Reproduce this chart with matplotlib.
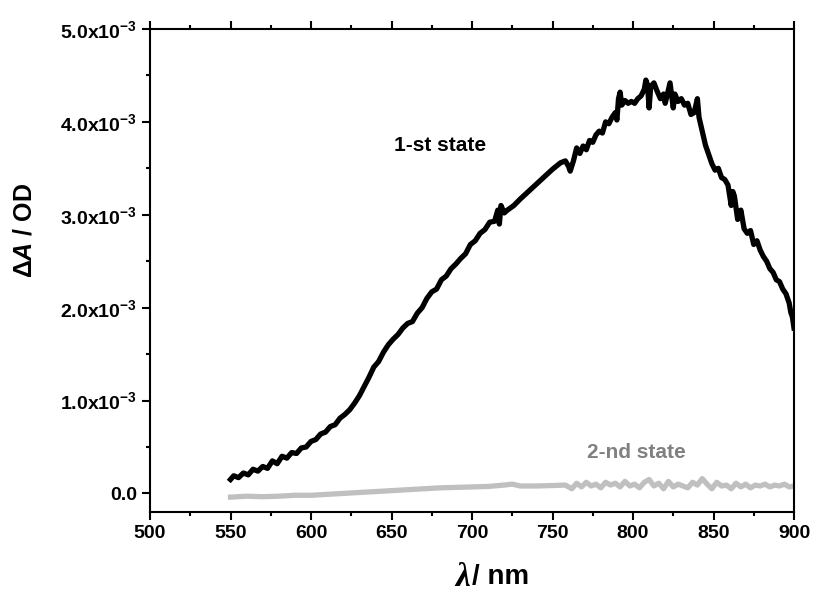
import matplotlib
matplotlib.use("Agg")
import matplotlib.pyplot as plt
from matplotlib.ticker import MultipleLocator, FixedLocator, FuncFormatter

plt.rcParams['font.family'] = ['Liberation Sans', 'DejaVu Sans']
plt.rcParams['font.weight'] = 'bold'
plt.rcParams['mathtext.fontset'] = 'custom'
plt.rcParams['mathtext.rm'] = 'Liberation Sans:bold'
plt.rcParams['mathtext.bf'] = 'Liberation Sans:bold'
plt.rcParams['mathtext.it'] = 'Liberation Sans:italic:bold'

# 1-st state spectrum (wavelength nm, dA in units of 1e-3 OD)
wl1 = [550, 552, 555, 558, 561, 564, 567, 570, 573, 576, 579, 582, 585, 588, 591, 594, 597,
       600, 603, 606, 609, 612, 615, 618, 621, 624, 627, 630, 633, 636, 639, 642, 645, 648,
       651, 654, 657, 660, 663, 666, 669, 672, 675, 678, 681, 684, 687, 690, 693, 696, 699,
       702, 705, 708, 711, 714, 716, 717, 718, 720, 722, 726, 730, 735, 740, 745, 750, 755,
       758, 760, 761, 763, 765, 767, 769, 771, 773, 775, 777, 779, 781, 783, 785, 787, 789,
       790, 791, 792, 793, 795, 797, 799, 801, 803, 805, 807, 808, 809, 810, 811, 813, 815,
       817, 819, 820, 822, 823, 825, 826, 828, 830, 832, 834, 836, 838, 840, 841, 843, 845,
       847, 849, 851, 853, 855, 857, 859, 861, 862, 863, 865, 867, 869, 871, 873, 875, 877,
       879, 881, 883, 885, 887, 889, 891, 893, 895, 897, 898, 899, 900]
da1 = [0.15, 0.19, 0.17, 0.22, 0.20, 0.26, 0.24, 0.29, 0.27, 0.35, 0.32, 0.40, 0.38, 0.44, 0.43,
       0.49, 0.50, 0.56, 0.58, 0.64, 0.66, 0.72, 0.74, 0.81, 0.85, 0.90, 0.97, 1.05, 1.15, 1.25,
       1.36, 1.42, 1.52, 1.60, 1.66, 1.71, 1.78, 1.83, 1.85, 1.94, 2.00, 2.10, 2.17, 2.20, 2.30,
       2.34, 2.42, 2.47, 2.53, 2.58, 2.68, 2.72, 2.80, 2.84, 2.92, 2.93, 3.05, 2.90, 3.10, 3.02,
       3.05, 3.10, 3.17, 3.25, 3.33, 3.41, 3.49, 3.56, 3.58, 3.52, 3.47, 3.58, 3.72, 3.66, 3.74,
       3.70, 3.80, 3.78, 3.86, 3.90, 3.88, 4.00, 3.98, 4.05, 4.10, 4.02, 4.25, 4.32, 4.18, 4.23,
       4.20, 4.22, 4.20, 4.25, 4.28, 4.35, 4.45, 4.40, 4.15, 4.38, 4.42, 4.33, 4.25, 4.30, 4.20,
       4.35, 4.42, 4.15, 4.30, 4.22, 4.25, 4.18, 4.20, 4.08, 4.10, 4.25, 4.05, 3.90, 3.75, 3.65,
       3.55, 3.48, 3.50, 3.40, 3.38, 3.32, 3.10, 3.25, 3.20, 2.95, 3.05, 2.85, 2.80, 2.83, 2.68,
       2.72, 2.62, 2.55, 2.50, 2.42, 2.38, 2.30, 2.28, 2.20, 2.15, 2.05, 1.95, 1.90, 1.78]

# 2-nd state spectrum
wl2 = [550, 560, 570, 580, 590, 600, 610, 620, 630, 640, 650, 660, 670, 680, 690, 700, 710,
       720, 725, 730, 740, 750, 758, 762, 765, 768, 771, 774, 777, 780, 783, 786, 789, 792,
       795, 798, 801, 804, 807, 810, 813, 816, 819, 822, 825, 828, 831, 834, 837, 840, 843,
       846, 849, 852, 855, 858, 861, 864, 867, 870, 873, 876, 879, 882, 885, 888, 891, 894,
       897, 900]
da2 = [-0.04, -0.03, -0.035, -0.03, -0.02, -0.02, -0.01, 0.0, 0.01, 0.02, 0.03, 0.04, 0.05,
       0.06, 0.065, 0.07, 0.075, 0.09, 0.10, 0.08, 0.08, 0.085, 0.09, 0.05, 0.11, 0.07, 0.12,
       0.08, 0.10, 0.06, 0.12, 0.09, 0.11, 0.07, 0.13, 0.08, 0.10, 0.06, 0.12, 0.15, 0.08, 0.11,
       0.05, 0.13, 0.07, 0.10, 0.08, 0.06, 0.12, 0.09, 0.16, 0.10, 0.05, 0.12, 0.08, 0.09, 0.05,
       0.11, 0.07, 0.10, 0.06, 0.09, 0.08, 0.10, 0.07, 0.09, 0.08, 0.10, 0.07, 0.08]

ytick_vals = [0, 1e-3, 2e-3, 3e-3, 4e-3, 5e-3]
ytick_text = ["0.0", "1.0", "2.0", "3.0", "4.0", "5.0"]

fig = plt.figure(figsize=(8.13, 5.94), dpi=100)
ax = fig.add_axes([150/813, 1-512/594, 644/813, 483/594])

ax.plot(wl2, [v*1e-3 for v in da2], color="#c0c0c0", lw=3.8, solid_joinstyle='round')
ax.plot(wl1, [v*1e-3 for v in da1], color="black", lw=3.8, solid_joinstyle='round')

ax.set_xlim(500, 900)
ax.set_ylim(-0.2e-3, 5e-3)

ax.xaxis.set_major_locator(MultipleLocator(50))
ax.xaxis.set_minor_locator(MultipleLocator(25))
ax.yaxis.set_major_locator(FixedLocator(ytick_vals))
ax.yaxis.set_minor_locator(FixedLocator([0.5e-3, 1.5e-3, 2.5e-3, 3.5e-3, 4.5e-3]))

def yfmt(v, pos):
    for tv, tt in zip(ytick_vals, ytick_text):
        if abs(v - tv) < 1e-9:
            if tv == 0:
                return tt
            return r"$\mathbf{" + tt + r"x10^{-3}}$"
    return ""
ax.yaxis.set_major_formatter(FuncFormatter(yfmt))

ax.tick_params(which='both', direction='out', width=1.5, labelsize=14, top=True, right=False)
ax.tick_params(which='major', length=6)
ax.tick_params(which='minor', length=3)
for lab in ax.get_xticklabels() + ax.get_yticklabels():
    lab.set_fontweight('bold')
for s in ax.spines.values():
    s.set_linewidth(1.5)

ax.text(680, 3.75e-3, "1-st state", fontsize=15, fontweight='bold', ha='center', va='center')
ax.text(802, 0.445e-3, "2-nd state", fontsize=15, fontweight='bold', color="#808080",
        ha='center', va='center')

fig.text(24/813, 1-230/594, r"$\mathit{ΔA}$ / OD", rotation=90, fontsize=18,
         fontweight='bold', ha='center', va='center')
fig.text(470/813, 1-577/594, "λ", fontsize=24, fontweight='bold', fontstyle='italic',
         family=['Liberation Serif', 'DejaVu Serif'], ha='right', va='center')
fig.text(472/813, 1-577/594, "/ nm", fontsize=20, fontweight='bold', ha='left', va='center')

fig.savefig("out.png", dpi=100)
